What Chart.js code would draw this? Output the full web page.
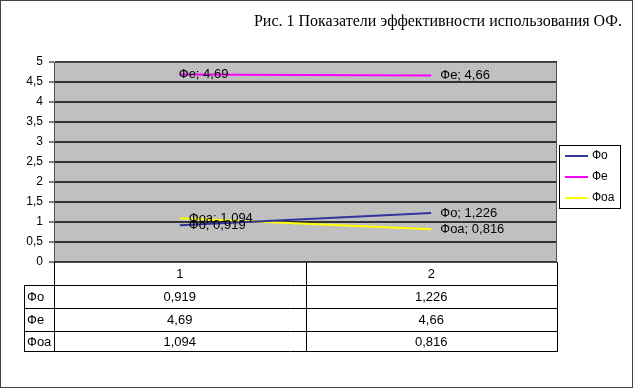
<!DOCTYPE html>
<html>
<head>
<meta charset="utf-8">
<script src="https://cdn.jsdelivr.net/npm/chart.js@4/dist/chart.umd.min.js"></script>
<style>
  body { margin: 0; background: #fff; }
  canvas { display: block; }
</style>
</head>
<body>
<canvas id="chart" width="635" height="389"></canvas>
<script>
// data
const categories = ['1', '2']
const seriesNames = ['Фо', 'Фе', 'Фоа']
const foValues = [0.919, 1.226]
const feValues = [4.69, 4.66]
const foaValues = [1.094, 0.816]
const yTicks = [0, 0.5, 1, 1.5, 2, 2.5, 3, 3.5, 4, 4.5, 5]

const titleText = 'Рис. 1 Показатели эффективности использования ОФ.'
const seriesColors = ['#333399', '#FF00FF', '#FFFF00']
const sans = '"Liberation Sans", Arial, sans-serif'

const fmt = (v) => String(v).replace('.', ',')

// speckled grey like the old excel plot area
const makePattern = (ctx) => {
    const p = document.createElement('canvas')
    p.width = 4
    p.height = 4
    const pc = p.getContext('2d')
    pc.fillStyle = '#c0c0c0'
    pc.fillRect(0, 0, 4, 4)
    pc.fillStyle = '#b4b4b4'
    pc.fillRect(0, 0, 1, 1)
    pc.fillRect(2, 2, 1, 1)
    pc.fillStyle = '#cacaca'
    pc.fillRect(3, 1, 1, 1)
    pc.fillRect(1, 3, 1, 1)
    return ctx.createPattern(p, 'repeat')
}

const plotBackground = {
    id: 'plotBackground',
    beforeDraw: (chart) => {
        const { ctx, chartArea: a } = chart
        ctx.save()
        ctx.fillStyle = '#fff'
        ctx.fillRect(0, 0, chart.width, chart.height)
        ctx.fillStyle = makePattern(ctx)
        ctx.fillRect(a.left, a.top, a.right - a.left, a.bottom - a.top)
        ctx.restore()
    }
}

// "Name; value" labels next to each point
const pointLabels = {
    id: 'pointLabels',
    afterDatasetsDraw: (chart) => {
        const ctx = chart.ctx
        ctx.save()
        ctx.font = '13px ' + sans
        ctx.fillStyle = '#000'
        ctx.textBaseline = 'middle'
        ctx.textAlign = 'left'
        chart.data.datasets.forEach((ds, i) => {
            chart.getDatasetMeta(i).data.forEach((pt, j) => {
                let dx = 9
                if (ds.label == 'Фе' && j == 0) dx = -1
                ctx.fillText(ds.label + '; ' + fmt(ds.data[j]), pt.x + dx, pt.y)
            })
        })
        ctx.restore()
    }
}

// data table under the plot, legend, title and frame
const extras = {
    id: 'extras',
    afterDraw: (chart) => {
        const { ctx, chartArea: a } = chart
        const xs = chart.scales.x
        ctx.save()

        // plot frame
        ctx.strokeStyle = '#505050'
        ctx.lineWidth = 1
        ctx.strokeRect(a.left + 0.5, a.top + 0.5, a.right - a.left - 1, a.bottom - a.top)

        // table
        const rows = [a.bottom, a.bottom + 23, a.bottom + 46, a.bottom + 69, a.bottom + 89]
        const labelLeft = 24
        const mid = (xs.getPixelForValue(0) + xs.getPixelForValue(1)) / 2
        ctx.strokeStyle = '#000'
        ctx.beginPath()
        for (let r = 1; r < rows.length; r++) {
            ctx.moveTo(labelLeft, Math.round(rows[r]) + 0.5)
            ctx.lineTo(a.right, Math.round(rows[r]) + 0.5)
        }
        for (const x of [a.left, mid, a.right]) {
            ctx.moveTo(Math.round(x) + 0.5, a.bottom)
            ctx.lineTo(Math.round(x) + 0.5, rows[4] + 1)
        }
        ctx.moveTo(labelLeft + 0.5, rows[1])
        ctx.lineTo(labelLeft + 0.5, rows[4] + 1)
        ctx.stroke()

        ctx.fillStyle = '#000'
        ctx.font = '13px ' + sans
        ctx.textBaseline = 'middle'
        ctx.textAlign = 'center'
        categories.forEach((c, j) => {
            ctx.fillText(c, xs.getPixelForValue(j), (rows[0] + rows[1]) / 2 + 1)
        })
        chart.data.datasets.forEach((ds, i) => {
            const y = (rows[i + 1] + rows[i + 2]) / 2 + 1
            ctx.textAlign = 'left'
            ctx.fillText(ds.label, labelLeft + 3, y)
            ctx.textAlign = 'center'
            ds.data.forEach((v, j) => ctx.fillText(fmt(v), xs.getPixelForValue(j), y))
        })

        // legend
        const lx = a.right + 2, ly = 145
        ctx.font = '12px ' + sans
        ctx.fillStyle = '#fff'
        ctx.fillRect(lx, ly, 61, 63)
        ctx.strokeStyle = '#000'
        ctx.strokeRect(lx + 0.5, ly + 0.5, 61, 63)
        chart.data.datasets.forEach((ds, i) => {
            const y = ly + 11 + i * 21
            ctx.strokeStyle = ds.borderColor
            ctx.lineWidth = 2
            ctx.beginPath()
            ctx.moveTo(lx + 6, y)
            ctx.lineTo(lx + 29, y)
            ctx.stroke()
            ctx.fillStyle = '#000'
            ctx.textAlign = 'left'
            ctx.fillText(ds.label, lx + 33, y)
        })

        // title
        ctx.font = '16px "Liberation Serif", "Times New Roman", serif'
        ctx.textAlign = 'right'
        ctx.textBaseline = 'alphabetic'
        ctx.fillText(titleText, 622, 26)

        // outer frame
        ctx.strokeStyle = '#444'
        ctx.lineWidth = 1
        ctx.strokeRect(0.5, 0.5, 632, 387)
        ctx.restore()
    }
}

const chart = new Chart(document.getElementById('chart'), {
    type: 'line',
    data: {
        labels: categories,
        datasets: [
            { label: seriesNames[0], data: foValues, borderColor: seriesColors[0] },
            { label: seriesNames[1], data: feValues, borderColor: seriesColors[1] },
            { label: seriesNames[2], data: foaValues, borderColor: seriesColors[2] },
        ]
    },
    options: {
        responsive: false,
        animation: false,
        layout: { padding: { left: 0, top: 62, right: 78, bottom: 127 } },
        elements: {
            line: { borderWidth: 2, tension: 0 },
            point: { radius: 0, hoverRadius: 0 }
        },
        plugins: {
            legend: { display: false },
            title: { display: false },
            tooltip: { enabled: false }
        },
        scales: {
            x: { display: false, offset: true },
            y: {
                min: 0,
                max: 5,
                afterFit: (s) => { s.width = 54 },
                afterBuildTicks: (s) => { s.ticks = yTicks.map(v => ({ value: v })) },
                ticks: {
                    padding: 6,
                    color: '#000',
                    font: { family: sans, size: 12 },
                    callback: (v) => fmt(v)
                },
                grid: { color: '#333', lineWidth: 2, tickColor: '#000', tickLength: 5, tickWidth: 1 },
                border: { display: true, color: '#000', width: 1 }
            }
        }
    },
    plugins: [plotBackground, pointLabels, extras]
})
</script>
</body>
</html>
